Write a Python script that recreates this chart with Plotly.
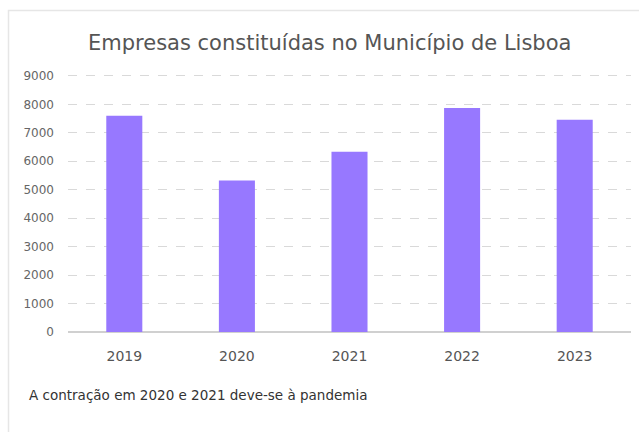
import plotly.graph_objects as go

years = ["2019", "2020", "2021", "2022", "2023"]
empresas = [7600, 5320, 6330, 7866, 7454]
y_ticks = [0, 1000, 2000, 3000, 4000, 5000, 6000, 7000, 8000, 9000]

W, H = 639, 432
L, R, T, B = 68, 8, 73, 100
PW, PH = W - L - R, H - T - B


def px_x(x):
    return (x - L) / PW


def px_y(y):
    return (H - B - y) / PH


fig = go.Figure()
fig.add_trace(go.Bar(
    x=years, y=empresas,
    marker=dict(color="#9778FF", line=dict(width=0)),
    width=0.32,
))

font_family = "DejaVu Sans, sans-serif"

fig.update_layout(
    width=W, height=H,
    margin=dict(l=L, r=R, t=T, b=B, pad=0),
    paper_bgcolor="white", plot_bgcolor="white",
    showlegend=False,
    font=dict(family=font_family, color="#666"),
    xaxis=dict(
        showgrid=False, zeroline=False, showline=False,
        ticks="", tickfont=dict(size=14, color="#555"),
        ticklabelstandoff=14,
    ),
    yaxis=dict(
        range=[0, 9100], tickvals=y_ticks,
        ticktext=[str(v) for v in y_ticks],
        showgrid=True, gridcolor="#d9d9d9", griddash="dash", gridwidth=1,
        zeroline=True, zerolinecolor="#d0d0d0", zerolinewidth=2,
        showline=False, ticks="",
        tickfont=dict(size=12, color="#666"),
        ticklabelstandoff=13,
    ),
    shapes=[dict(
        type="rect", xref="paper", yref="paper",
        x0=px_x(8.5), x1=px_x(W + 20),
        y0=px_y(H + 20), y1=px_y(10.5),
        line=dict(color="#e6e6e6", width=1.5), fillcolor="rgba(0,0,0,0)", layer="below",
    )],
    annotations=[
        dict(text="Empresas constituídas no Município de Lisboa",
             xref="paper", yref="paper",
             x=px_x(329), y=px_y(43),
             xanchor="center", yanchor="middle", showarrow=False,
             font=dict(size=21, color="#555", family=font_family)),
        dict(text="A contração em 2020 e 2021 deve-se à pandemia",
             xref="paper", yref="paper",
             x=px_x(27), y=px_y(395),
             xanchor="left", yanchor="middle", showarrow=False,
             font=dict(size=13.5, color="#333", family=font_family)),
    ],
)

fig.write_html("out.html")
